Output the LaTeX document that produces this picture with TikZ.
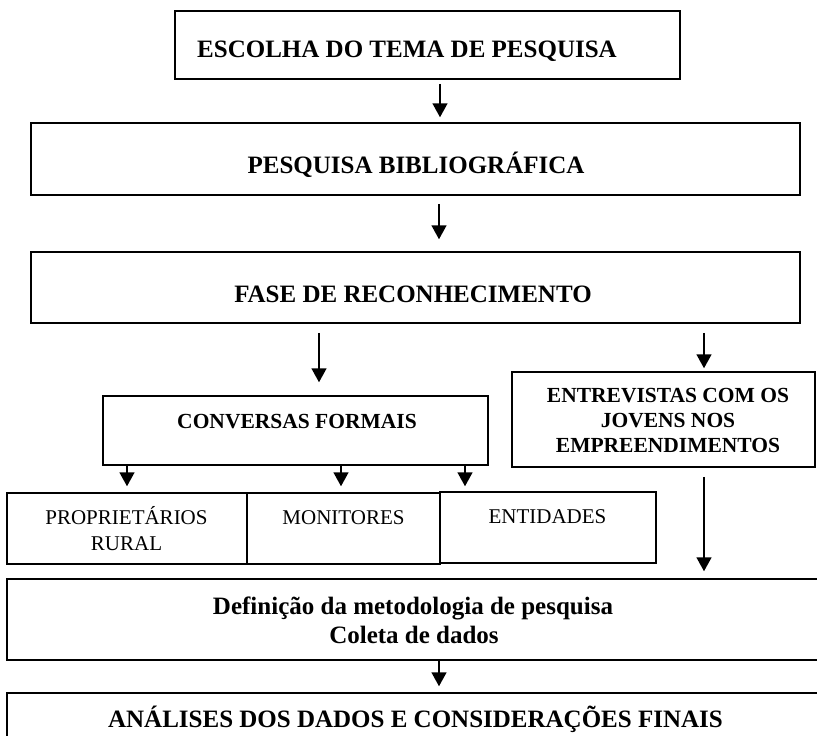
\documentclass[tikz,border=0pt]{standalone}
\usepackage{fontspec}
\setmainfont{Liberation Serif}
\usetikzlibrary{arrows.meta}
\begin{document}
\begin{tikzpicture}[x=1pt,y=-1pt,
  box/.style={draw=black, line width=1.5pt, inner sep=0pt},
  big/.style={anchor=base, inner sep=0pt, font=\fontsize{25}{27}\selectfont\bfseries},
  mid/.style={anchor=base, inner sep=0pt, align=center, font=\fontsize{21.5}{23}\selectfont\bfseries},
  reg/.style={anchor=base, inner sep=0pt, align=center, font=\fontsize{21}{26}\selectfont},
  arr/.style={-{Triangle[width=15pt,length=14pt]}, line width=1.6pt}]
\path[use as bounding box] (0,0) rectangle (817,736);
\begin{scope}
\clip (0,0) rectangle (817,736);
% boxes
\node[box, minimum width=505pt, minimum height=68pt] (b1) at (427.5,45) {};
\node[box, minimum width=769pt, minimum height=72pt] (b2) at (415.5,159) {};
\node[box, minimum width=769pt, minimum height=71pt] (b3) at (415.5,287.5) {};
\node[box, minimum width=385pt, minimum height=69pt] (conv) at (295.5,430.5) {};
\node[box, minimum width=303pt, minimum height=95pt] (entr) at (663.5,419.5) {};
\node[box, minimum width=240pt, minimum height=71pt] (prop) at (127,528.5) {};
\node[box, minimum width=193pt, minimum height=71pt] (moni) at (343.5,528.5) {};
\node[box, minimum width=216pt, minimum height=71pt] (enti) at (548,527.5) {};
\node[box, minimum width=830pt, minimum height=81pt] (defi) at (422,619.5) {};
\node[box, minimum width=830pt, minimum height=70pt] (anal) at (422,728) {};
% texts
\node[big] (t1) at (407,57) {ESCOLHA DO TEMA DE PESQUISA};
\node[big] (t2) at (416,173) {PESQUISA BIBLIOGRÁFICA};
\node[big] (t3) at (413,302) {FASE DE RECONHECIMENTO};
\node[mid] (tc) at (297,428) {CONVERSAS FORMAIS};
\node[mid] (te1) at (668,402) {ENTREVISTAS COM OS};
\node[mid] (te2) at (668,427) {JOVENS NOS};
\node[mid] (te3) at (668,452) {EMPREENDIMENTOS};
\node[reg] (tp1) at (126.5,524) {PROPRIETÁRIOS};
\node[reg] (tp2) at (126.5,550) {RURAL};
\node[reg] (tm) at (343.5,524) {MONITORES};
\node[reg] (tn) at (547.5,523) {ENTIDADES};
\node[big] (td1) at (413,614) {Definição da metodologia de pesquisa};
\node[big] (td2) at (414,643) {Coleta de dados};
\node[big] (ta) at (415.5,727) {ANÁLISES DOS DADOS E CONSIDERAÇÕES FINAIS};
% arrow columns
\coordinate (xa) at (440,0);
\coordinate (xb) at (439,0);
\coordinate (xc) at (319,0);
\coordinate (xd) at (704,0);
\coordinate (xe) at (127,0);
\coordinate (xf) at (341,0);
\coordinate (xg) at (465,0);
% connectors
\draw[arr, shorten <=4pt, shorten >=5pt] (b1.south -| xa) -- (b2.north -| xa);
\draw[arr, shorten <=8pt, shorten >=12pt] (b2.south -| xb) -- (b3.north -| xb);
\draw[arr, shorten <=9pt, shorten >=13pt] (b3.south -| xc) -- (conv.north -| xc);
\draw[arr, shorten <=9pt, shorten >=3pt] (b3.south -| xd) -- (entr.north -| xd);
\draw[arr, shorten >=6pt] (conv.south -| xe) -- (prop.north -| xe);
\draw[arr, shorten >=6pt] (conv.south -| xf) -- (moni.north -| xf);
\draw[arr, shorten >=5pt] (conv.south -| xg) -- (enti.north -| xg);
\draw[arr, shorten <=9pt, shorten >=7pt] (entr.south -| xd) -- (defi.north -| xd);
\draw[arr, shorten >=6pt] (defi.south -| xb) -- (anal.north -| xb);
\end{scope}
\end{tikzpicture}
\end{document}
